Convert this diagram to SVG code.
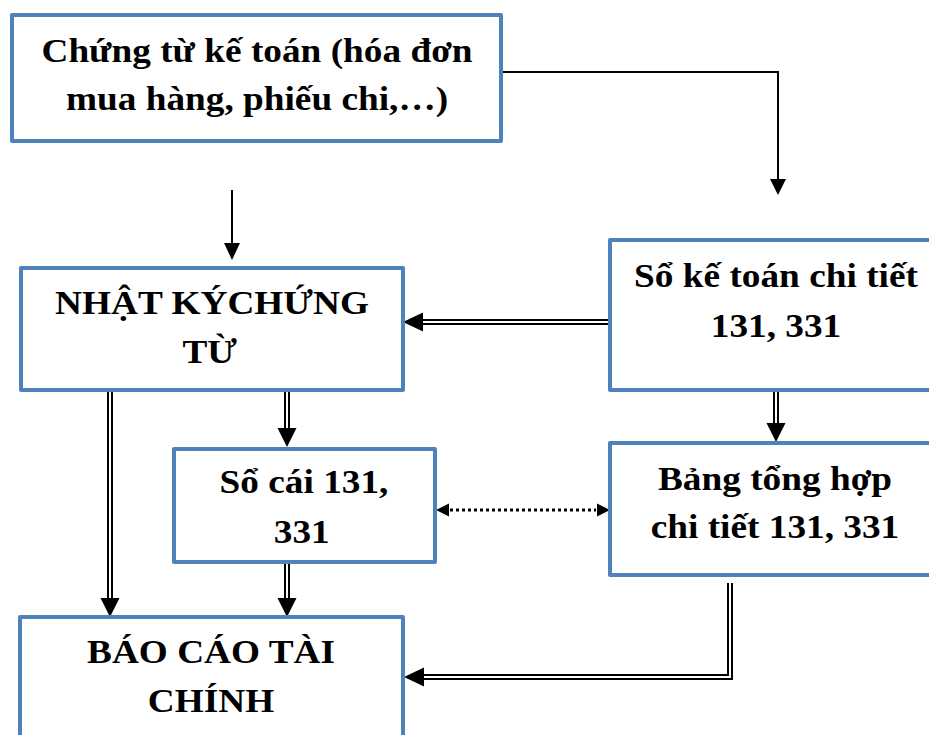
<svg xmlns="http://www.w3.org/2000/svg" width="929" height="735" viewBox="0 0 929 735">
<style>
.box{fill:#fff;stroke:#4F81BD;stroke-width:4;stroke-linejoin:round}
.t{font-family:"Liberation Serif","Times New Roman",serif;font-weight:bold;font-size:33px;fill:#000;text-anchor:middle}
.s{fill:none;stroke:#000;stroke-width:2}
.dbo{fill:none;stroke:#000;stroke-width:6;stroke-linejoin:miter}
.dbi{fill:none;stroke:#fff;stroke-width:2;stroke-linejoin:miter}
.dot{fill:none;stroke:#000;stroke-width:3;stroke-dasharray:3 3}
.ah{fill:#000}
</style>
<rect width="929" height="735" fill="#fff"/>
<g id="connectors">
  <path class="s" d="M502 72 H778 V181"/>
  <polygon class="ah" points="778,195 770,179 786,179"/>
  <path class="s" d="M232 190 V245"/>
  <polygon class="ah" points="232,260 224,243 240,243"/>
  <path class="dbo" d="M610 322 H422"/>
  <path class="dbi" d="M610 322 H422"/>
  <polygon class="ah" points="403,322 423,312.5 423,331.5"/>
  <path class="dbo" d="M776 392 V424"/>
  <path class="dbi" d="M776 392 V424"/>
  <polygon class="ah" points="776,442 766.5,423 785.5,423"/>
  <path class="dbo" d="M110 392 V599"/>
  <path class="dbi" d="M110 392 V599"/>
  <polygon class="ah" points="110,617 100.5,598 119.5,598"/>
  <path class="dbo" d="M287 392 V428"/>
  <path class="dbi" d="M287 392 V428"/>
  <polygon class="ah" points="287,447 277.5,428 296.5,428"/>
  <path class="dbo" d="M287 564 V599"/>
  <path class="dbi" d="M287 564 V599"/>
  <polygon class="ah" points="287,617 277.5,598 296.5,598"/>
  <path class="dbo" d="M730 583 V677 H422"/>
  <path class="dbi" d="M730 583 V677 H422"/>
  <polygon class="ah" points="404,677 424,667.5 424,686.5"/>
  <path class="dot" d="M450 510 H596"/>
  <polygon class="ah" points="436,510 449,503.5 449,516.5"/>
  <polygon class="ah" points="610,510 597,503.5 597,516.5"/>
</g>
<g id="chung-tu">
  <rect class="box" x="12" y="15" width="489" height="126"/>
  <text class="t" transform="translate(257,62) scale(1.13,1)"><tspan x="0" y="0">Chứng từ kế toán (hóa đơn</tspan><tspan x="0" y="48">mua hàng, phiếu chi,…)</tspan></text>
</g>
<g id="nhat-ky">
  <rect class="box" x="21" y="268" width="382" height="122"/>
  <text class="t" transform="translate(212,314) scale(1.13,1)"><tspan x="0" y="0">NHẬT KÝCHỨNG</tspan><tspan x="-2" y="49">TỪ</tspan></text>
</g>
<g id="so-ke-toan">
  <rect class="box" x="610" y="240" width="330" height="150"/>
  <text class="t" transform="translate(776,287) scale(1.13,1)"><tspan x="0" y="0">Sổ kế toán chi tiết</tspan><tspan x="0" y="50">131, 331</tspan></text>
</g>
<g id="so-cai">
  <rect class="box" x="174" y="449" width="261" height="113"/>
  <text class="t" transform="translate(304,493) scale(1.13,1)"><tspan x="0" y="0">Sổ cái 131,</tspan><tspan x="-2" y="50">331</tspan></text>
</g>
<g id="bang-tong-hop">
  <rect class="box" x="610" y="443" width="330" height="132"/>
  <text class="t" transform="translate(775,490) scale(1.13,1)"><tspan x="0" y="0">Bảng tổng hợp</tspan><tspan x="0" y="48">chi tiết 131, 331</tspan></text>
</g>
<g id="bao-cao">
  <rect class="box" x="20" y="617" width="383" height="130"/>
  <text class="t" transform="translate(211,663) scale(1.13,1)"><tspan x="0" y="0">BÁO CÁO TÀI</tspan><tspan x="0" y="49">CHÍNH</tspan></text>
</g>
</svg>
